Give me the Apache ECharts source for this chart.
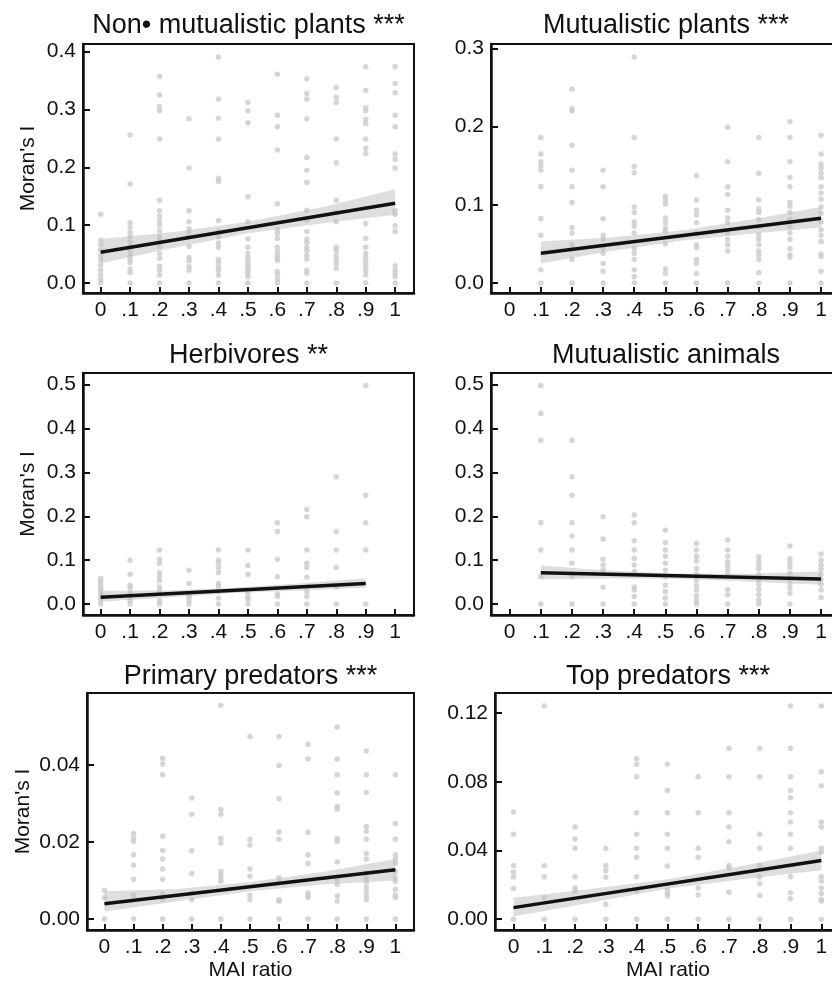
<!DOCTYPE html>
<html>
<head>
<meta charset="utf-8">
<script src="https://cdn.jsdelivr.net/npm/echarts@6/dist/echarts.min.js"></script>
<style>
    html, body { margin: 0; padding: 0; background: #fff; overflow: hidden; }
    #chart { width: 845px; height: 982px; }
</style>
</head>
<body>
<div id="chart"></div>
<script>
// MAI ratio categories (x positions of the dot columns)
var maiTicks = [0, 0.1, 0.2, 0.3, 0.4, 0.5, 0.6, 0.7, 0.8, 0.9, 1];

// Moran's I values, one list per MAI ratio column
var nonMutPlants = [
    [0.119, 0.074, 0.066, 0.057, 0.048, 0.040, 0.031, 0.022, 0.014, 0.006, 0],
    [0.256, 0.171, 0.104, 0.096, 0.087, 0.080, 0.071, 0.064, 0.056, 0.048, 0.041, 0.035, 0.024, 0.018, 0],
    [0.357, 0.325, 0.305, 0.298, 0.249, 0.143, 0.125, 0.115, 0.106, 0.100, 0.090, 0.080, 0.074, 0.063, 0.051, 0.043, 0.029, 0.022, 0.014, 0],
    [0.284, 0.199, 0.125, 0.106, 0.094, 0.089, 0.080, 0.063, 0.044, 0.038, 0.028, 0.022, 0],
    [0.391, 0.318, 0.285, 0.249, 0.181, 0.176, 0.108, 0.089, 0.080, 0.069, 0.062, 0.040, 0.035, 0.027, 0.022, 0.014, 0],
    [0.312, 0.298, 0.277, 0.149, 0.106, 0.076, 0.062, 0.051, 0.044, 0.039, 0.033, 0.028, 0.022, 0.017, 0.011, 0],
    [0.361, 0.290, 0.270, 0.230, 0.137, 0.092, 0.085, 0.077, 0.062, 0.054, 0.048, 0.043, 0.039, 0.020, 0.014, 0.006, 0],
    [0.353, 0.328, 0.318, 0.284, 0.217, 0.195, 0.174, 0.126, 0.109, 0.089, 0.076, 0.070, 0.062, 0.056, 0.048, 0.041, 0.022, 0.017, 0],
    [0.338, 0.321, 0.312, 0.249, 0.208, 0.143, 0.122, 0.106, 0.062, 0.056, 0.047, 0.040, 0.033, 0.025, 0],
    [0.374, 0.333, 0.303, 0.298, 0.283, 0.276, 0.249, 0.233, 0.224, 0.103, 0.077, 0.062, 0.051, 0.044, 0.036, 0.028, 0.021, 0.014, 0],
    [0.374, 0.345, 0.329, 0.290, 0.270, 0.223, 0.214, 0.199, 0.125, 0.119, 0.099, 0.089, 0.030, 0.022, 0.017, 0.011, 0]
];
var mutPlants = [
    [],
    [0.186, 0.165, 0.155, 0.150, 0.144, 0.123, 0.082, 0.061, 0.017, 0],
    [0.248, 0.223, 0.220, 0.176, 0.144, 0.123, 0.103, 0.071, 0.064, 0.049, 0.044, 0.030, 0],
    [0.144, 0.123, 0.082, 0.061, 0.056, 0.044, 0.038, 0.025, 0.015, 0],
    [0.289, 0.186, 0.149, 0.141, 0.097, 0.090, 0.078, 0.073, 0.064, 0.044, 0.038, 0.030, 0.017, 0.008, 0],
    [0.111, 0.106, 0.101, 0.083, 0.077, 0.070, 0.066, 0.050, 0.018, 0.012, 0],
    [0.137, 0.106, 0.093, 0.087, 0.077, 0.064, 0.049, 0.045, 0.030, 0.025, 0.012, 0],
    [0.199, 0.155, 0.123, 0.113, 0.093, 0.083, 0.077, 0.064, 0.056, 0.049, 0.041, 0],
    [0.186, 0.140, 0.106, 0.095, 0.090, 0.081, 0.072, 0.062, 0.056, 0.049, 0.041, 0.036, 0.030, 0.013, 0],
    [0.206, 0.186, 0.155, 0.135, 0.123, 0.103, 0.098, 0.090, 0.081, 0.072, 0.064, 0.056, 0.044, 0.036, 0.033, 0],
    [0.189, 0.165, 0.152, 0.147, 0.141, 0.135, 0.123, 0.115, 0.107, 0.097, 0.089, 0.078, 0.068, 0.061, 0.053, 0.037, 0.034, 0.015, 0]
];
var herbivores = [
    [0.058, 0.053, 0.047, 0.039, 0.032, 0.024, 0.017, 0.009, 0],
    [0.100, 0.068, 0.043, 0.036, 0.024, 0.017, 0.008, 0],
    [0.123, 0.102, 0.093, 0.071, 0.062, 0.053, 0.039, 0.030, 0.008, 0],
    [0.077, 0.047, 0.024, 0.017, 0.009, 0],
    [0.123, 0.100, 0.094, 0.083, 0.072, 0.047, 0.041, 0.028, 0.013, 0],
    [0.123, 0.088, 0.068, 0.028, 0.017, 0.011, 0],
    [0.185, 0.165, 0.102, 0.062, 0.023, 0.017, 0],
    [0.216, 0.199, 0.123, 0.093, 0.083, 0.061, 0.039, 0.028, 0.017, 0],
    [0.290, 0.165, 0.123, 0.083, 0.039, 0],
    [0.498, 0.248, 0.185, 0.123, 0],
    []
];
var mutAnimals = [
    [],
    [0.498, 0.434, 0.373, 0.185, 0.123, 0.062, 0],
    [0.373, 0.290, 0.248, 0.185, 0.155, 0.123, 0.093, 0.062, 0],
    [0.199, 0.148, 0.102, 0.089, 0.077, 0.038, 0],
    [0.203, 0.185, 0.144, 0.123, 0.104, 0.089, 0.074, 0.039, 0.032, 0.017, 0],
    [0.168, 0.140, 0.123, 0.109, 0.093, 0.077, 0.062, 0.043, 0.028, 0.014, 0],
    [0.138, 0.123, 0.109, 0.098, 0.081, 0.068, 0.055, 0.043, 0.032, 0.019, 0.008, 0],
    [0.146, 0.123, 0.109, 0.096, 0.087, 0.077, 0.066, 0.033, 0.021, 0],
    [0.108, 0.098, 0.088, 0.079, 0.066, 0.055, 0.045, 0.033, 0.021, 0.009, 0],
    [0.132, 0.104, 0.093, 0.083, 0.070, 0.058, 0.047, 0.036, 0.024, 0],
    [0.114, 0.100, 0.089, 0.079, 0.068, 0.056, 0.045, 0.032, 0.015]
];
var primPredators = [
    [0.0075, 0.0056, 0],
    [0.0222, 0.0209, 0.0201, 0.0167, 0.0140, 0.0103, 0.0062, 0],
    [0.0416, 0.0402, 0.0374, 0.0215, 0.0178, 0.0156, 0.0130, 0.0103, 0.0066, 0.0051, 0],
    [0.0314, 0.0272, 0.0177, 0.0118, 0.0068, 0.0050, 0],
    [0.0554, 0.0285, 0.0272, 0.0209, 0.0197, 0.0124, 0.0115, 0.0107, 0.0098, 0],
    [0.0473, 0.0207, 0.0192, 0.0130, 0.0111, 0.0062, 0.0051, 0],
    [0.0473, 0.0398, 0.0312, 0.0226, 0.0207, 0.0107, 0.0094, 0.0050, 0.0046, 0],
    [0.0453, 0.0415, 0.0225, 0.0167, 0.0144, 0.0068, 0.0062, 0.0056, 0],
    [0.0498, 0.0415, 0.0374, 0.0327, 0.0292, 0.0285, 0.0209, 0.0201, 0.0148, 0.0103, 0.0090, 0.0060, 0.0047, 0],
    [0.0436, 0.0374, 0.0328, 0.0240, 0.0228, 0.0207, 0.0170, 0.0156, 0.0120, 0.0107, 0.0096, 0.0083, 0.0071, 0.0060, 0.0050, 0],
    [0.0374, 0.0248, 0.0207, 0.0167, 0.0156, 0.0145, 0.0122, 0.0107, 0.0098, 0.0077, 0.0062, 0.0056, 0]
];
var topPredators = [
    [0.0624, 0.0495, 0.0313, 0.0274, 0.0247, 0.0178, 0],
    [0.1242, 0.0311, 0.0247, 0.0125, 0],
    [0.0537, 0.0466, 0.0413, 0.0247, 0.0182, 0.0163, 0],
    [0.0413, 0.0313, 0.0282, 0.0244, 0.0087, 0],
    [0.0934, 0.0902, 0.0829, 0.0620, 0.0495, 0.0413, 0.0360, 0.0247, 0.0163, 0],
    [0.0902, 0.0749, 0.0620, 0.0495, 0.0413, 0.0310, 0.0173, 0.0150, 0.0134, 0],
    [0.0829, 0.0620, 0.0413, 0.0360, 0.0182, 0.0140, 0],
    [0.0994, 0.0829, 0.0620, 0.0537, 0.0451, 0.0313, 0.0298, 0.0157, 0],
    [0.0994, 0.0829, 0.0495, 0.0413, 0.0313, 0.0246, 0.0207, 0.0138, 0],
    [0.1242, 0.0994, 0.0829, 0.0749, 0.0707, 0.0620, 0.0566, 0.0495, 0.0413, 0.0247, 0.0154, 0.0119, 0],
    [0.1242, 0.0858, 0.0777, 0.0566, 0.0537, 0.0413, 0.0390, 0.0247, 0.0220, 0.0182, 0.0150, 0.0115, 0.0106, 0]
];

// fitted lines [x, y] and confidence bands [x, lower, upper]
var nonMutPlantsFit = [[0, 0.053], [1, 0.138]];
var nonMutPlantsBand = [[0, 0.034, 0.076], [0.25, 0.061, 0.088], [0.5, 0.086, 0.106], [0.75, 0.103, 0.131], [1, 0.118, 0.162]];
var mutPlantsFit = [[0.1, 0.038], [1, 0.0827]];
var mutPlantsBand = [[0.1, 0.025, 0.053], [0.325, 0.041, 0.058], [0.55, 0.054, 0.067], [0.775, 0.063, 0.081], [1, 0.071, 0.097]];
var herbivoresFit = [[0, 0.0152], [0.9, 0.047]];
var herbivoresBand = [[0, 0.005, 0.030], [0.225, 0.015, 0.031], [0.45, 0.025, 0.037], [0.675, 0.031, 0.047], [0.9, 0.037, 0.059]];
var mutAnimalsFit = [[0.1, 0.071], [1, 0.057]];
var mutAnimalsBand = [[0.1, 0.057, 0.088], [0.325, 0.058, 0.076], [0.55, 0.0575, 0.0695], [0.775, 0.051, 0.069], [1, 0.044, 0.074]];
var primPredatorsFit = [[0, 0.0040], [1, 0.0128]];
var primPredatorsBand = [[0, 0.0020, 0.0072], [0.25, 0.0046, 0.0078], [0.5, 0.0072, 0.0096], [0.75, 0.0090, 0.0122], [1, 0.0100, 0.0156]];
var topPredatorsFit = [[0, 0.0067], [1, 0.0342]];
var topPredatorsBand = [[0, 0.0015, 0.0125], [0.25, 0.0096, 0.0176], [0.5, 0.0177, 0.0232], [0.75, 0.0233, 0.0313], [1, 0.0285, 0.0400]];

// y tick labels per panel
var yTicks1 = [0, 0.1, 0.2, 0.3, 0.4];
var yTicks2 = [0, 0.1, 0.2, 0.3];
var yTicks3 = [0, 0.1, 0.2, 0.3, 0.4, 0.5];
var yTicks5 = [0, 0.02, 0.04];
var yTicks6 = [0, 0.04, 0.08, 0.12];

var FONT = '"Liberation Sans", Arial, Helvetica, sans-serif';
var INK = '#111';

var panels = [
    { title: 'Non\u2022 mutualistic plants ***', pts: nonMutPlants, fit: nonMutPlantsFit, band: nonMutPlantsBand,
      ticks: yTicks1, dec: 1, yMin: -0.0173, yMax: 0.4133, box: [83, 44, 331, 249], titleTop: 12, yName: 44 },
    { title: 'Mutualistic plants ***', pts: mutPlants, fit: mutPlantsFit, band: mutPlantsBand,
      ticks: yTicks2, dec: 1, yMin: -0.0128, yMax: 0.3055, box: [491, 44, 350, 249], titleTop: 12 },
    { title: 'Herbivores **', pts: herbivores, fit: herbivoresFit, band: herbivoresBand,
      ticks: yTicks3, dec: 1, yMin: -0.025, yMax: 0.5264, box: [83, 373, 331, 242], titleTop: 342, yName: 44 },
    { title: 'Mutualistic animals', pts: mutAnimals, fit: mutAnimalsFit, band: mutAnimalsBand,
      ticks: yTicks3, dec: 1, yMin: -0.025, yMax: 0.5264, box: [491, 373, 350, 242], titleTop: 342 },
    { title: 'Primary predators ***', pts: primPredators, fit: primPredatorsFit, band: primPredatorsBand,
      ticks: yTicks5, dec: 2, yMin: -0.00282, yMax: 0.0586, box: [87, 693, 327, 240], titleTop: 663, yName: 53, xName: true },
    { title: 'Top predators ***', pts: topPredators, fit: topPredatorsFit, band: topPredatorsBand,
      ticks: yTicks6, dec: 2, yMin: -0.00633, yMax: 0.1317, box: [495, 693, 346, 240], titleTop: 663, xName: true }
];

function xLabel(v) {
    if (v === 0) return '0';
    if (v === 1) return '1';
    return '.' + Math.round(v * 10);
}

function bandRenderer(band) {
    return function (params, api) {
        var pts = [];
        band.forEach(function (r) { pts.push(api.coord([r[0], r[2]])); });
        band.slice().reverse().forEach(function (r) { pts.push(api.coord([r[0], r[1]])); });
        return {
            type: 'polygon',
            shape: { points: pts },
            style: { fill: 'rgba(190,190,190,0.5)' }
        };
    };
}

var option = {
    animation: false,
    backgroundColor: '#fff',
    textStyle: { fontFamily: FONT },
    title: [], grid: [], xAxis: [], yAxis: [], series: []
};

panels.forEach(function (p, i) {
    var b = p.box;
    option.title.push({
        text: p.title,
        left: b[0] + b[2] / 2,
        top: p.titleTop,
        textAlign: 'center',
        padding: 0,
        textStyle: { fontSize: 27, fontWeight: 'normal', color: INK, fontFamily: FONT }
    });
    option.grid.push({
        left: b[0], top: b[1], width: b[2], height: b[3],
        show: true, borderColor: INK, borderWidth: 2, backgroundColor: 'transparent'
    });
    option.xAxis.push({
        type: 'value', gridIndex: i, min: -0.06, max: 1.064,
        name: p.xName ? 'MAI ratio' : '',
        nameLocation: 'middle', nameGap: 30,
        nameTextStyle: { fontSize: 21, color: INK, fontFamily: FONT },
        axisLine: { show: true, onZero: false, lineStyle: { color: INK, width: 2.5 } },
        axisTick: { show: true, inside: true, length: 6, customValues: maiTicks, lineStyle: { color: INK, width: 2 } },
        axisLabel: { customValues: maiTicks, formatter: xLabel, fontSize: 21, color: INK, margin: 7, fontFamily: FONT },
        splitLine: { show: false }
    });
    option.yAxis.push({
        type: 'value', gridIndex: i, min: p.yMin, max: p.yMax,
        name: p.yName ? "Moran's I" : '',
        nameLocation: 'middle', nameGap: p.yName || 40, nameRotate: 90,
        nameTextStyle: { fontSize: 21, color: INK, fontFamily: FONT },
        axisLine: { show: true, onZero: false, lineStyle: { color: INK, width: 2.5 } },
        axisTick: { show: true, inside: true, length: 7, customValues: p.ticks, lineStyle: { color: INK, width: 2 } },
        axisLabel: {
            customValues: p.ticks, fontSize: 21, color: INK, margin: 7, fontFamily: FONT,
            formatter: (function (d) { return function (v) { return v.toFixed(d); }; })(p.dec)
        },
        splitLine: { show: false }
    });

    var dots = [];
    p.pts.forEach(function (col, k) {
        col.forEach(function (v) { dots.push([maiTicks[k], v]); });
    });
    option.series.push({
        type: 'scatter', xAxisIndex: i, yAxisIndex: i, data: dots,
        symbol: 'circle', symbolSize: 5.5, silent: true, z: 2,
        itemStyle: { color: '#cbcbcb' }
    });
    option.series.push({
        type: 'custom', xAxisIndex: i, yAxisIndex: i, data: [[0, 0]],
        renderItem: bandRenderer(p.band), silent: true, z: 3
    });
    option.series.push({
        type: 'line', xAxisIndex: i, yAxisIndex: i, data: p.fit,
        symbol: 'none', silent: true, z: 4,
        lineStyle: { color: INK, width: 3.5 }
    });
});

var chart = echarts.init(document.getElementById('chart'), null, { renderer: 'canvas' });
chart.setOption(option);
</script>
</body>
</html>
